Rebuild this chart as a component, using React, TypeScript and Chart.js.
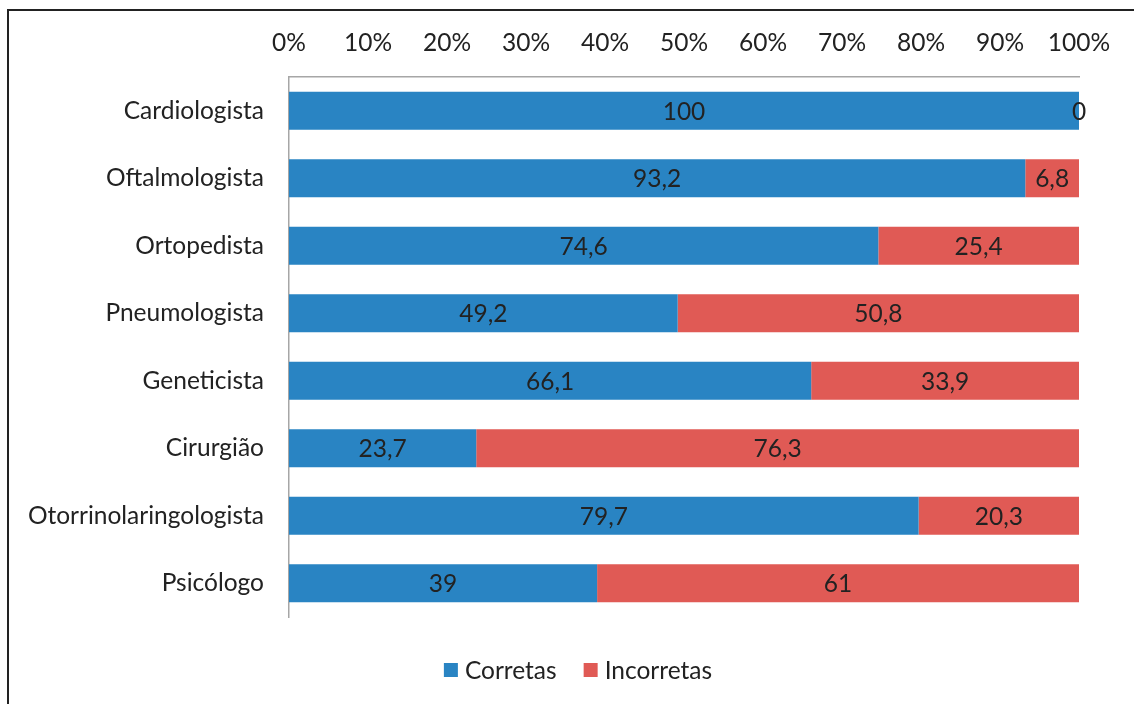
import React, { useEffect, useRef } from "react";
import { Chart, registerables } from "chart.js";

Chart.register(...registerables);

const categories = [
  "Cardiologista",
  "Oftalmologista",
  "Ortopedista",
  "Pneumologista",
  "Geneticista",
  "Cirurgião",
  "Otorrinolaringologista",
  "Psicólogo",
];
const corretas = [100, 93.2, 74.6, 49.2, 66.1, 23.7, 79.7, 39];
const incorretas = [0, 6.8, 25.4, 50.8, 33.9, 76.3, 20.3, 61];
const seriesNames = ["Corretas", "Incorretas"];
const xTicks = [0, 10, 20, 30, 40, 50, 60, 70, 80, 90, 100];

const BLUE = "#2984c3";
const RED = "#e05a55";
const TEXT = "#222222";
const FONT = "Lato, 'Open Sans', sans-serif";
const FS = 24.5;

const fmt = (v: number) => String(v).replace(".", ",");

const extrasPlugin = {
  id: "extras",
  afterDatasetsDraw(chart: any) {
    const ctx = chart.ctx;
    ctx.save();
    ctx.font = `${FS}px ${FONT}`;
    ctx.fillStyle = TEXT;
    ctx.textAlign = "center";
    ctx.textBaseline = "middle";
    chart.data.datasets.forEach((ds: any, di: number) => {
      const meta = chart.getDatasetMeta(di);
      meta.data.forEach((bar: any, i: number) => {
        const v = ds.data[i];
        const cx = (bar.x + bar.base) / 2;
        ctx.fillText(fmt(v), cx, bar.y + 1);
      });
    });
    ctx.restore();
  },
  afterDraw(chart: any) {
    const ctx = chart.ctx;
    ctx.save();
    // frame
    ctx.strokeStyle = "#222";
    ctx.lineWidth = 2;
    ctx.beginPath();
    ctx.moveTo(8, 704);
    ctx.lineTo(8, 10);
    ctx.lineTo(1134, 10);
    ctx.stroke();
    // legend
    ctx.font = `${FS}px ${FONT}`;
    const colors = [BLUE, RED];
    const box = 14;
    const gap = 7;
    const spacing = 27;
    const widths = seriesNames.map((n) => ctx.measureText(n).width);
    const total = widths.reduce((a, w) => a + box + gap + w, 0) + spacing;
    let x = 578 - total / 2;
    const cy = 670;
    ctx.textBaseline = "middle";
    ctx.textAlign = "left";
    seriesNames.forEach((n, i) => {
      ctx.fillStyle = colors[i];
      ctx.fillRect(x, cy - box / 2, box, box);
      x += box + gap;
      ctx.fillStyle = TEXT;
      ctx.fillText(n, x, cy + 1);
      x += widths[i] + spacing;
    });
    ctx.restore();
  },
};

export default function App() {
  const ref = useRef<HTMLCanvasElement>(null);
  useEffect(() => {
    document.body.style.margin = "0";
    const chart = new Chart(ref.current!, {
      type: "bar",
      data: {
        labels: categories,
        datasets: [
          { label: seriesNames[0], data: corretas, backgroundColor: BLUE, barPercentage: 0.56, categoryPercentage: 1 },
          { label: seriesNames[1], data: incorretas, backgroundColor: RED, barPercentage: 0.56, categoryPercentage: 1 },
        ],
      },
      options: {
        indexAxis: "y",
        responsive: false,
        animation: false,
        layout: { padding: { left: 10, right: 55, top: 20, bottom: 87 } },
        plugins: { legend: { display: false }, tooltip: { enabled: false } },
        scales: {
          x: {
            position: "top",
            stacked: true,
            min: 0,
            max: 100,
            afterBuildTicks(scale: any) {
              scale.ticks = xTicks.map((v) => ({ value: v }));
            },
            afterFit(scale: any) {
              scale.height = 57;
            },
            grid: { display: false, drawTicks: false },
            border: { display: true, color: "#a6a6a6", width: 1.5 },
            ticks: {
              padding: 19,
              color: TEXT,
              font: { size: FS, family: FONT },
              maxRotation: 0,
              autoSkip: false,
              callback: (v: any) => `${v}%`,
            },
          },
          y: {
            stacked: true,
            afterFit(scale: any) {
              scale.width = 279;
            },
            grid: { display: false, drawTicks: false },
            border: { display: true, color: "#a6a6a6", width: 1.5 },
            ticks: {
              padding: 25,
              color: TEXT,
              font: { size: FS, family: FONT },
            },
          },
        },
      },
      plugins: [extrasPlugin],
    });
    return () => chart.destroy();
  }, []);
  return (
    <div style={{ width: 1134, height: 704 }}>
      <canvas ref={ref} width={1134} height={704} style={{ display: "block" }} />
    </div>
  );
}
